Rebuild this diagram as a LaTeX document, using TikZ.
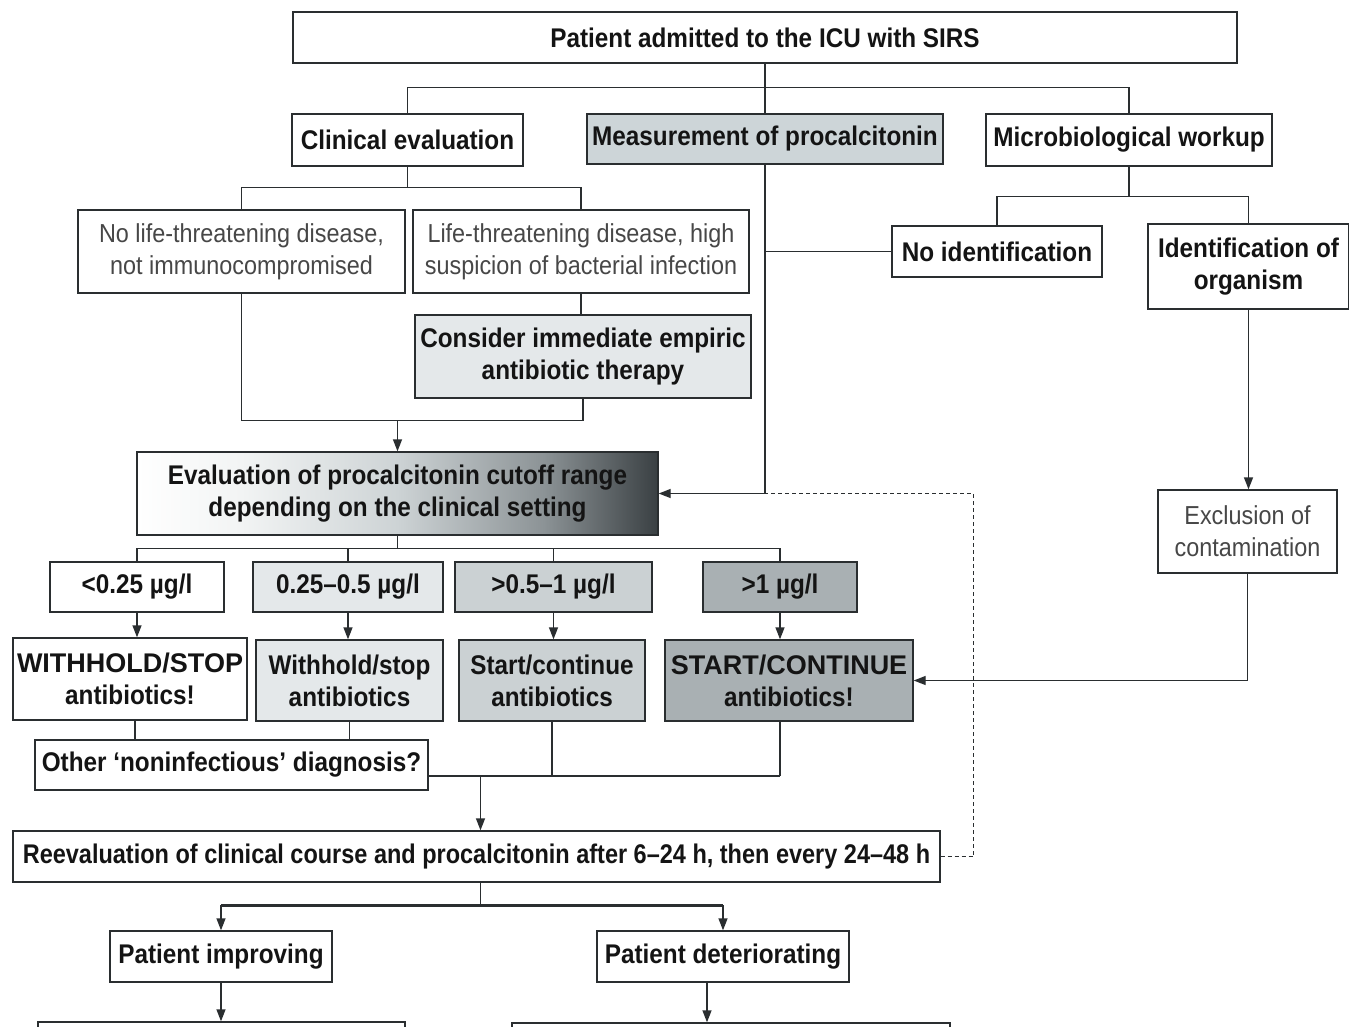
\documentclass[tikz,border=0pt]{standalone}
\usepackage{fontspec}
\setmainfont{Liberation Sans}[FakeStretch=0.90]
\newfontfamily\narrowf{Liberation Sans}[FakeStretch=0.87]
\newfontfamily\widef{Liberation Sans}
\usetikzlibrary{arrows.meta}
\definecolor{pcfill}{HTML}{CDD5D8}
\definecolor{lgray}{HTML}{E4E8EA}
\definecolor{mgray}{HTML}{CBD1D3}
\definecolor{dgray}{HTML}{A9B0B3}
\definecolor{edge}{HTML}{2A2E30}
\definecolor{shA}{HTML}{F2F4F4}
\definecolor{shB}{HTML}{CDD3D5}
\definecolor{shC}{HTML}{8C9396}
\definecolor{shD}{HTML}{3A4043}
\pgfdeclarehorizontalshading{evalshade}{100bp}{color(0bp)=(white); color(25bp)=(white); color(35bp)=(shA); color(50bp)=(shB); color(64bp)=(shC); color(75bp)=(shD); color(100bp)=(shD)}
\newcommand\bx[6]{\node[#1, minimum width={(#4-#2)*1pt}, minimum height={(#5-#3)*1pt}] (#6) at ({(#2+#4)/2},{(#3+#5)/2})}
\begin{document}
\begin{tikzpicture}[x=1pt,y=-1pt,
  box/.style={draw=edge, line width=1.4pt, inner sep=0pt, fill=white, text=black!92, align=center,
    font=\bfseries\fontsize{27}{32}\selectfont},
  plain/.style={box, text=black!72, font=\fontsize{26}{32}\selectfont},
  ln/.style={draw=edge, line width=1.4pt},
  thk/.style={draw=edge, line width=2.6pt},
  arr/.style={ln, -{Triangle[length=12pt,width=9pt]}},
  dsh/.style={draw=edge, line width=1.3pt, dash pattern=on 4pt off 3pt}]
\fill[white] (0,0) rectangle (1349,1026);
\useasboundingbox (0,0) rectangle (1349,1026);
\clip (0,0) rectangle (1349,1026);

\bx{box}{293}{12}{1237}{63}{top} {Patient admitted to the ICU with SIRS};
\bx{box}{292}{114}{523}{166}{clin} {Clinical evaluation};
\bx{box, fill=pcfill}{587}{114}{943}{164}{pcm} {Measurement of procalcitonin};
\bx{box}{986}{114}{1272}{166}{micro} {Microbiological workup};

\bx{plain}{78}{210}{405}{293}{nolife} {No life-threatening disease,\\not immunocompromised};
\bx{plain}{413}{210}{749}{293}{life} {Life-threatening disease, high\\suspicion of bacterial infection};
\bx{box, fill=lgray}{415}{315}{751}{398}{cons} {Consider immediate empiric\\antibiotic therapy};

\bx{box}{892}{226}{1102}{277}{noid} {No identification};
\bx{box}{1148}{224}{1349}{309}{idorg} {Identification of\\organism};
\bx{plain}{1158}{490}{1337}{573}{excl} {Exclusion of\\contamination};

\bx{box, shading=evalshade}{137}{452}{658}{535}{eval} {Evaluation of procalcitonin cutoff range\\depending on the clinical setting};

\bx{box}{50}{562}{224}{612}{r1} {<0.25 µg/l};
\bx{box, fill=lgray}{253}{562}{443}{612}{r2} {0.25–0.5 µg/l};
\bx{box, fill=mgray}{455}{562}{652}{612}{r3} {>0.5–1 µg/l};
\bx{box, fill=dgray}{703}{562}{857}{612}{r4} {>1 µg/l};

\bx{box}{13}{638}{247}{720}{a1} {{\widef WITHHOLD/STOP}\\antibiotics!};
\bx{box, fill=lgray}{256}{640}{443}{721}{a2} {Withhold/stop\\antibiotics};
\bx{box, fill=mgray}{459}{640}{645}{721}{a3} {Start/continue\\antibiotics};
\bx{box, fill=dgray}{665}{640}{913}{721}{a4} {{\widef START/CONTINUE}\\antibiotics!};

\bx{box}{35}{740}{428}{790}{other} {Other ‘noninfectious’ diagnosis?};
\bx{box}{13}{831}{940}{882}{reeval} {{\narrowf Reevaluation of clinical course and procalcitonin after 6–24 h, then every 24–48 h}};
\bx{box}{110}{931}{332}{982}{imp} {Patient improving};
\bx{box}{597}{931}{849}{982}{det} {Patient deteriorating};
\bx{box}{38}{1022}{405}{1080}{bl} {};
\bx{box}{512}{1023}{950}{1080}{br} {};

% top split
\draw[ln] (top.south) -- (pcm.north);
\draw[ln] (clin.north) -- ++(0,-26) -| (micro.north);
% clinical evaluation
\draw[ln] (clin.south) -- ++(0,21) coordinate (c1);
\draw[ln] (nolife.north) |- (c1) -| (life.north);
\draw[ln] (life.south) -- (life.south |- cons.north);
\draw[ln] (nolife.south) -- ++(0,127) coordinate (c2) -| (cons.south);
\draw[arr] (eval.north |- c2) -- (eval.north);
% procalcitonin
\draw[arr] (pcm.south) |- (eval.east);
\draw[ln] (noid.west) -- (pcm.south |- noid.west);
% microbiology
\draw[ln] (micro.south) -- ++(0,30) coordinate (m1);
\draw[ln] (noid.north) |- (m1) -| (idorg.north);
\draw[arr] (idorg.south) -- (idorg.south |- excl.north);
\draw[arr] (excl.south) |- (a4.east);
% dashed feedback
\draw[dsh] (reeval.east) -- ++(33,0) |- (pcm.south |- eval.east);
% cutoff ranges
\draw[ln] (eval.south) -- ++(0,13) coordinate (e1);
\draw[ln] (r1.north) |- (e1) -| (r4.north);
\draw[ln] (r2.north) -- (r2.north |- e1);
\draw[ln] (r3.north) -- (r3.north |- e1);
\draw[arr] (r1.south) -- (r1.south |- a1.north);
\draw[arr] (r2.south) -- (r2.south |- a2.north);
\draw[arr] (r3.south) -- (r3.south |- a3.north);
\draw[arr] (r4.south) -- (r4.south |- a4.north);
% actions
\draw[ln] ([xshift=5pt]a1.south) -- ([xshift=5pt]a1.south |- other.north);
\draw[ln] (a2.south) -- (a2.south |- other.north);
\coordinate (j0) at ([yshift=-11pt]other.east);
\draw[thk] (j0) -- (j0 -| r4.south);
\draw[ln] (a3.south) -- (a3.south |- j0);
\draw[ln] (r4.south |- a4.south) -- (r4.south |- j0);
\draw[arr] ([xshift=4pt]reeval.north |- j0) -- ([xshift=4pt]reeval.north);
% reevaluation
\draw[ln] ([xshift=4pt]reeval.south) -- ++(0,23) coordinate (r5);
\draw[thk] (imp.north |- r5) -- (det.north |- r5);
\draw[arr] (r5) -| (imp.north);
\draw[arr] (r5) -| (det.north);
\draw[arr] (imp.south) -- (imp.south |- bl.north);
\draw[arr] ([xshift=-16pt]det.south) -- ([xshift=-16pt]det.south |- br.north);
\end{tikzpicture}
\end{document}
